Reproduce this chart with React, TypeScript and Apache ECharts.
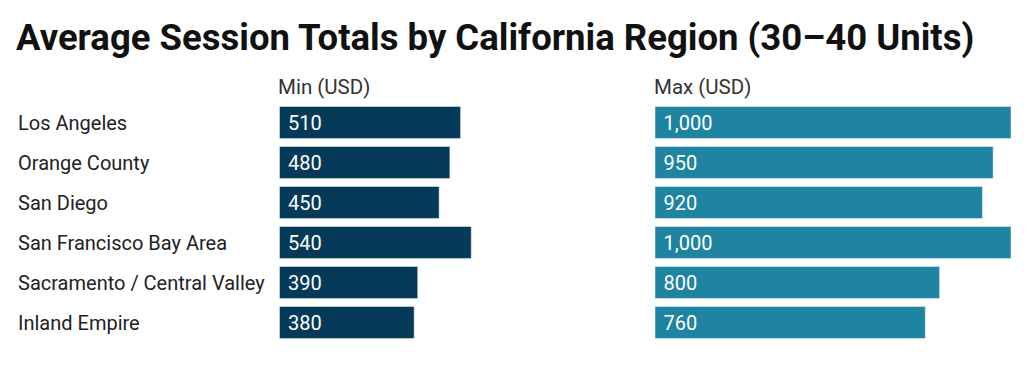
import React, { useEffect, useRef } from "react";
import * as echarts from "echarts";

const regions = [
  "Los Angeles",
  "Orange County",
  "San Diego",
  "San Francisco Bay Area",
  "Sacramento / Central Valley",
  "Inland Empire",
];
const minValues = [510, 480, 450, 540, 390, 380];
const maxValues = [1000, 950, 920, 1000, 800, 760];
const titleText = "Average Session Totals by California Region (30–40 Units)";
const minHeader = "Min (USD)";
const maxHeader = "Max (USD)";

const FONT = "Roboto, 'Noto Sans', sans-serif";

export default function App() {
  const ref = useRef<HTMLDivElement>(null);
  useEffect(() => {
    if (!ref.current) return;
    const chart = echarts.init(ref.current, undefined, { renderer: "svg" });
    const fmt = (v: number) => v.toLocaleString("en-US");
    const labelCfg = {
      show: true,
      position: "insideLeft",
      distance: 9,
      color: "#ffffff",
      fontSize: 20,
      fontFamily: FONT,
      formatter: (p: any) => fmt(p.value),
    };
    chart.setOption({
      animation: false,
      backgroundColor: "#ffffff",
      textStyle: { fontFamily: FONT },
      title: [
        {
          text: titleText,
          left: 16,
          top: 18.5,
          padding: 0,
          textStyle: { fontSize: 36.5, fontWeight: "bold", color: "#111111", fontFamily: FONT },
        },
        {
          text: minHeader,
          left: 278,
          top: 76.5,
          padding: 0,
          textStyle: { fontSize: 20.5, fontWeight: "normal", color: "#333333", fontFamily: FONT },
        },
        {
          text: maxHeader,
          left: 654,
          top: 76.5,
          padding: 0,
          textStyle: { fontSize: 20.5, fontWeight: "normal", color: "#333333", fontFamily: FONT },
        },
      ],
      grid: [
        { left: 279, width: 357, top: 102.5, height: 240 },
        { left: 654.5, width: 357, top: 102.5, height: 240 },
      ],
      xAxis: [
        { type: "value", gridIndex: 0, min: 0, max: 1000, show: false },
        { type: "value", gridIndex: 1, min: 0, max: 1000, show: false },
      ],
      yAxis: [
        {
          type: "category",
          gridIndex: 0,
          data: regions,
          inverse: true,
          axisLine: { show: false },
          axisTick: { show: false },
          axisLabel: {
            show: true,
            align: "left",
            margin: 261,
            fontSize: 20,
            color: "#222222",
            fontFamily: FONT,
          },
        },
        {
          type: "category",
          gridIndex: 1,
          data: regions,
          inverse: true,
          axisLine: { show: false },
          axisTick: { show: false },
          axisLabel: { show: false },
        },
      ],
      series: [
        {
          type: "bar",
          xAxisIndex: 0,
          yAxisIndex: 0,
          data: minValues,
          barWidth: 33,
          itemStyle: { color: "#053a59", borderColor: "rgba(255,255,255,0.45)", borderWidth: 1 },
          label: labelCfg,
        },
        {
          type: "bar",
          xAxisIndex: 1,
          yAxisIndex: 1,
          data: maxValues,
          barWidth: 33,
          itemStyle: { color: "#1f83a2", borderColor: "rgba(255,255,255,0.45)", borderWidth: 1 },
          label: labelCfg,
        },
      ],
    });
    return () => chart.dispose();
  }, []);
  return (
    <div
      ref={ref}
      style={{ position: "fixed", left: 0, top: 0, width: 1030, height: 370 }}
    />
  );
}
